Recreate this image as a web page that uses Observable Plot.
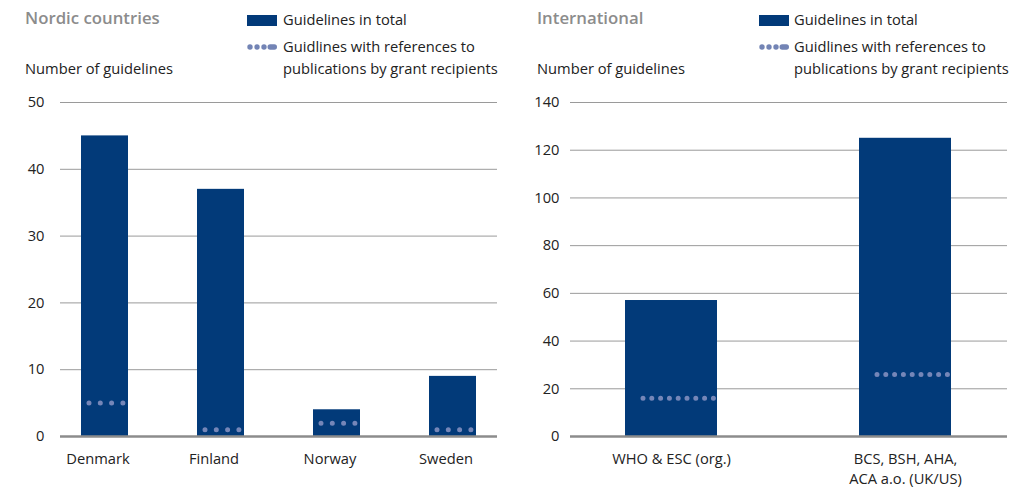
<!DOCTYPE html>
<html>
<head>
<meta charset="utf-8">
<script src="https://cdn.jsdelivr.net/npm/d3@7"></script>
<script src="https://cdn.jsdelivr.net/npm/@observablehq/plot@0.6"></script>
<style>
  html, body { margin: 0; padding: 0; background: #fff; }
  body { width: 1013px; height: 487px; position: relative; overflow: hidden; font-family: "Open Sans", sans-serif; color: #222; }
  .panel { position: absolute; top: 0; height: 487px; }
  .abs { position: absolute; white-space: nowrap; }
  .title { font-size: 16.8px; font-weight: 600; color: #8c8c8c; line-height: 22px; }
  .txt { font-size: 14.7px; line-height: 22px; }
  .swatch { position: absolute; width: 30px; height: 11px; background: #023a79; }
  .chart { position: absolute; left: 0; top: 92px; }
</style>
</head>
<body>
<div id="left" class="panel" style="left:0;width:506px;">
  <div class="abs title" style="left:25px;top:7px;">Nordic countries</div>
  <div class="swatch" style="left:247px;top:15px;"></div>
  <div class="abs txt" style="left:283px;top:8px;">Guidelines in total</div>
  <svg class="abs" style="left:247px;top:43px;" width="32" height="8"><g fill="#7384b5"><circle cx="3" cy="4" r="2.7"/><circle cx="10" cy="4" r="2.7"/><circle cx="17" cy="4" r="2.7"/><rect x="20.5" y="1.3" width="9.5" height="5.4" rx="2.7"/></g></svg>
  <div class="abs txt" style="left:283px;top:35px;">Guidlines with references to<br>publications by grant recipients</div>
  <div class="abs txt" style="left:25px;top:57px;">Number of guidelines</div>
  <div id="leftChart" class="chart"></div>
</div>
<div id="right" class="panel" style="left:506px;width:507px;">
  <div class="abs title" style="left:31px;top:7px;">International</div>
  <div class="swatch" style="left:253px;top:15px;"></div>
  <div class="abs txt" style="left:288px;top:8px;">Guidelines in total</div>
  <svg class="abs" style="left:253px;top:43px;" width="32" height="8"><g fill="#7384b5"><circle cx="3" cy="4" r="2.7"/><circle cx="10" cy="4" r="2.7"/><circle cx="17" cy="4" r="2.7"/><rect x="20.5" y="1.3" width="9.5" height="5.4" rx="2.7"/></g></svg>
  <div class="abs txt" style="left:288px;top:35px;">Guidlines with references to<br>publications by grant recipients</div>
  <div class="abs txt" style="left:31px;top:57px;">Number of guidelines</div>
  <div id="rightChart" class="chart"></div>
</div>
<script>
// ---- Data ----
const nordicCountries = ["Denmark", "Finland", "Norway", "Sweden"];
const nordicTotal = [45, 37, 4, 9];
const nordicRefs = [5, 1, 2, 1];
const nordicTicks = [0, 10, 20, 30, 40, 50];

const intlGroups = ["WHO & ESC (org.)", "BCS, BSH, AHA,\nACA a.o. (UK/US)"];
const intlTotal = [57, 125];
const intlRefs = [16, 26];
const intlTicks = [0, 20, 40, 60, 80, 100, 120, 140];

const BAR = "#023a79";
const DOT = "#7586b8";
const GRID = "#9a9a9a";
const ZERO = "#8c8c8c";

const nordic = nordicCountries.map((c, i) => ({group: c, total: nordicTotal[i], refs: nordicRefs[i]}));
const intl = intlGroups.map((c, i) => ({group: c, total: intlTotal[i], refs: intlRefs[i]}));

function makeChart({data, domainX, ticks, yMax, width, marginLeft, marginRight, paddingInner, paddingOuter, tickPad, labelDx, dash, dotInsetLeft, dotInsetRight}) {
  return Plot.plot({
    width,
    height: 395,
    marginTop: 10,
    marginBottom: 51,
    marginLeft,
    marginRight,
    style: {fontFamily: "'Open Sans', sans-serif", fontSize: "14.7px", color: "#222", background: "transparent", overflow: "visible"},
    x: {domain: domainX, paddingInner, paddingOuter, label: null},
    y: {domain: [0, yMax], label: null},
    marks: [
      Plot.gridY(ticks.filter(t => t !== 0), {stroke: GRID, strokeOpacity: 1, strokeWidth: 1}),
      Plot.barY(data, {x: "group", y: "total", fill: BAR}),
      Plot.tickY(data, {x: "group", y: "refs", stroke: DOT, strokeWidth: 5, strokeLinecap: "round", strokeDasharray: dash, insetLeft: dotInsetLeft, insetRight: dotInsetRight}),
      Plot.ruleY([0], {stroke: ZERO, strokeWidth: 2.5}),
      Plot.axisY({ticks, tickSize: 0, tickPadding: tickPad, label: null, fontSize: 14.7}),
      Plot.axisX({tickSize: 0, tickPadding: 13, dx: labelDx, label: null, fontSize: 14.7, lineHeight: 1.36})
    ]
  });
}

document.getElementById("leftChart").appendChild(makeChart({
  data: nordic, domainX: nordicCountries, ticks: nordicTicks, yMax: 50,
  width: 506, marginLeft: 60, marginRight: 9,
  paddingInner: 0.596, paddingOuter: 0.172, tickPad: 16, labelDx: -7,
  dash: "0 11.3", dotInsetLeft: 8, dotInsetRight: 2
}));

document.getElementById("rightChart").appendChild(makeChart({
  data: intl, domainX: intlGroups, ticks: intlTicks, yMax: 140,
  width: 507, marginLeft: 64, marginRight: 6,
  paddingInner: 0.605, paddingOuter: 0.236, tickPad: 11, labelDx: 0,
  dash: "0 8.8", dotInsetLeft: 18, dotInsetRight: 3
}));
</script>
</body>
</html>
